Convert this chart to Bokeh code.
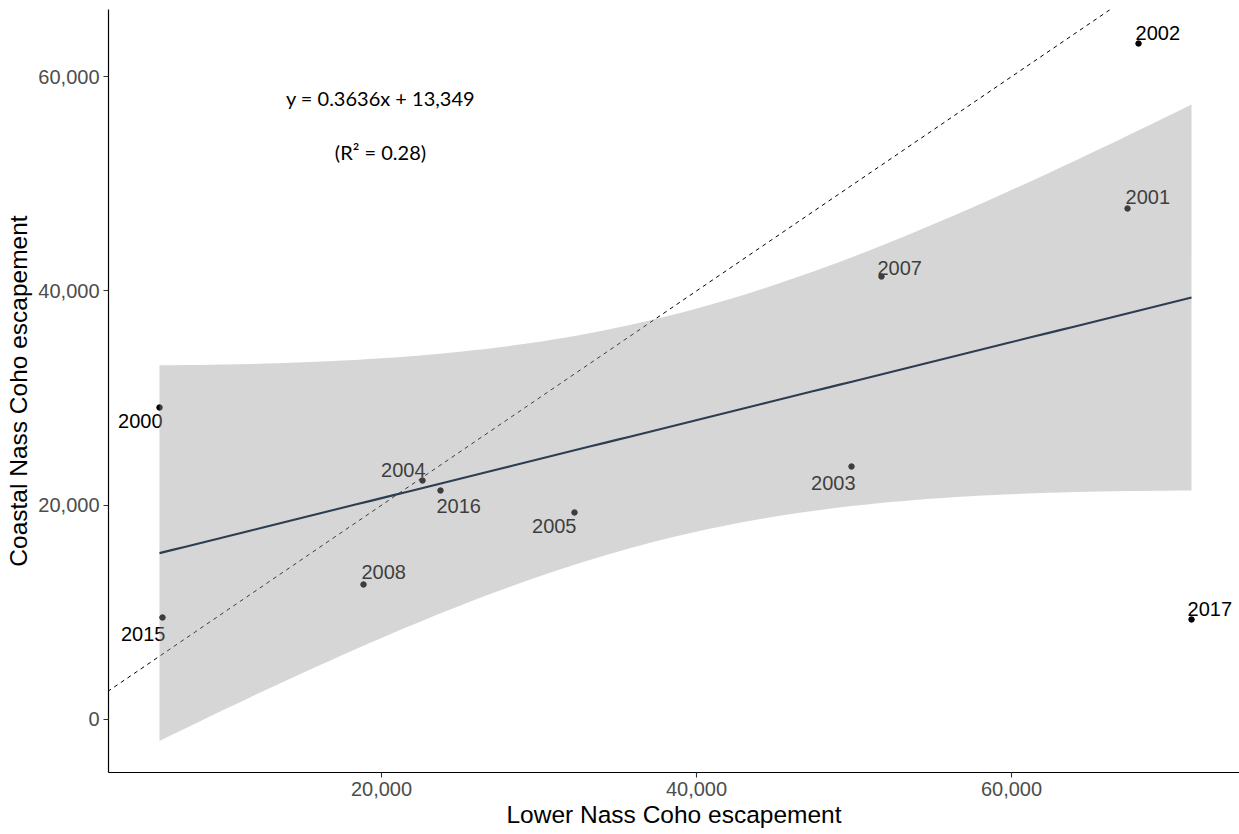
import numpy as np
from bokeh.plotting import figure
from bokeh.models import ColumnDataSource, Range1d, NumeralTickFormatter, FixedTicker, Slope, Label
from bokeh.embed import file_html
from bokeh.resources import INLINE
from bokeh.core.properties import value

# ---- data ----
years = ["2000", "2001", "2002", "2003", "2004", "2005", "2007", "2008", "2015", "2016", "2017"]
lower_nass = [5905, 67365, 68063, 49840, 22603, 32253, 51744, 18857, 6095, 23745, 71428]
coastal_nass = [29120, 47692, 63091, 23613, 22306, 19320, 41345, 12600, 9520, 21373, 9333]
x_ticks = [20000, 40000, 60000]
y_ticks = [0, 20000, 40000, 60000]
equation_text = "y = 0.3636x + 13,349"
r2_text = "(R\u00b2 = 0.28)"

# ---- label placement styles (screen px) ----
label_dx = [3, -2, -3, 4, 3, 2, -4, -2, 3, -4, -4]
label_dy = [14, -12, -11, 16, -11, 14, -9, -12, 17, 15, -11]
label_align = ["right", "left", "left", "right", "right", "right", "left", "left", "right", "left", "left"]

# ---- linear fit with 95% confidence band (as geom_smooth(method="lm")) ----
x = np.array(lower_nass, dtype=float)
y = np.array(coastal_nass, dtype=float)
n = len(x)
slope, intercept = np.polyfit(x, y, 1)
xbar = x.mean()
resid = y - (intercept + slope * x)
s = np.sqrt(np.sum(resid ** 2) / (n - 2))
sxx = np.sum((x - xbar) ** 2)
T975 = 2.262157  # t quantile, df = 9
xg = np.linspace(x.min(), x.max(), 80)
yhat = intercept + slope * xg
se = s * np.sqrt(1.0 / n + (xg - xbar) ** 2 / sxx)
band = ColumnDataSource(dict(x=xg, yhat=yhat, lo=yhat - T975 * se, hi=yhat + T975 * se))

pts = ColumnDataSource(dict(x=lower_nass, y=coastal_nass, year=years,
                            dx=label_dx, dy=label_dy, align=label_align))

p = figure(width=1239, height=834, output_backend="svg", toolbar_location=None,
           x_range=Range1d(2667, 74474), y_range=Range1d(-4947, 66267),
           min_border_left=108, min_border_right=0, min_border_top=9, min_border_bottom=62)
p.outline_line_color = None
p.xgrid.visible = False
p.ygrid.visible = False
p.background_fill_color = "white"

# 1:1 reference line
p.add_layout(Slope(gradient=1, y_intercept=0, line_color="black", line_width=1,
                   line_dash="4 4", level="underlay"))

# points and year labels
p.scatter("x", "y", source=pts, size=5.5, color="black")
p.text("x", "y", text="year", source=pts, x_offset="dx", y_offset="dy",
       text_align="align", text_baseline="middle", text_color="black",
       text_font=value("Liberation Sans"), text_font_size="20px")

# confidence band and fitted line
p.varea(x="x", y1="lo", y2="hi", source=band, fill_color="#999999", fill_alpha=0.4)
p.line("x", "yhat", source=band, line_color="#2C3E50", line_width=2.1)

# equation annotations
EQ_X, EQ_Y, R2_Y = 19936, 58050, 53010
for txt, yy in [(equation_text, EQ_Y), (r2_text, R2_Y)]:
    p.add_layout(Label(x=EQ_X, y=yy, text=txt, text_align="center", text_baseline="middle",
                       text_font="Lato", text_font_size="20px", text_color="black"))

# axes (theme_classic look)
for ax in (p.xaxis[0], p.yaxis[0]):
    ax.axis_line_color = "black"
    ax.axis_line_width = 1.2
    ax.major_tick_line_color = "#333333"
    ax.major_tick_line_width = 1.1
    ax.major_tick_out = 5
    ax.major_tick_in = 0
    ax.minor_tick_line_color = None
    ax.major_label_text_font = "Liberation Sans"
    ax.major_label_text_font_size = "20px"
    ax.major_label_text_color = "#4D4D4D"
    ax.axis_label_text_font = "Liberation Sans"
    ax.axis_label_text_font_size = "24.5px"
    ax.axis_label_text_font_style = "normal"
    ax.axis_label_text_color = "black"
    ax.formatter = NumeralTickFormatter(format="0,0")
    ax.major_label_standoff = 4

p.xaxis[0].ticker = FixedTicker(ticks=x_ticks)
p.yaxis[0].ticker = FixedTicker(ticks=y_ticks)
p.xaxis[0].axis_label = "Lower Nass Coho escapement"
p.yaxis[0].axis_label = "Coastal Nass Coho escapement"
p.xaxis[0].axis_label_standoff = 2
p.yaxis[0].axis_label_standoff = 3

open("out.html", "w").write(file_html(p, INLINE))
